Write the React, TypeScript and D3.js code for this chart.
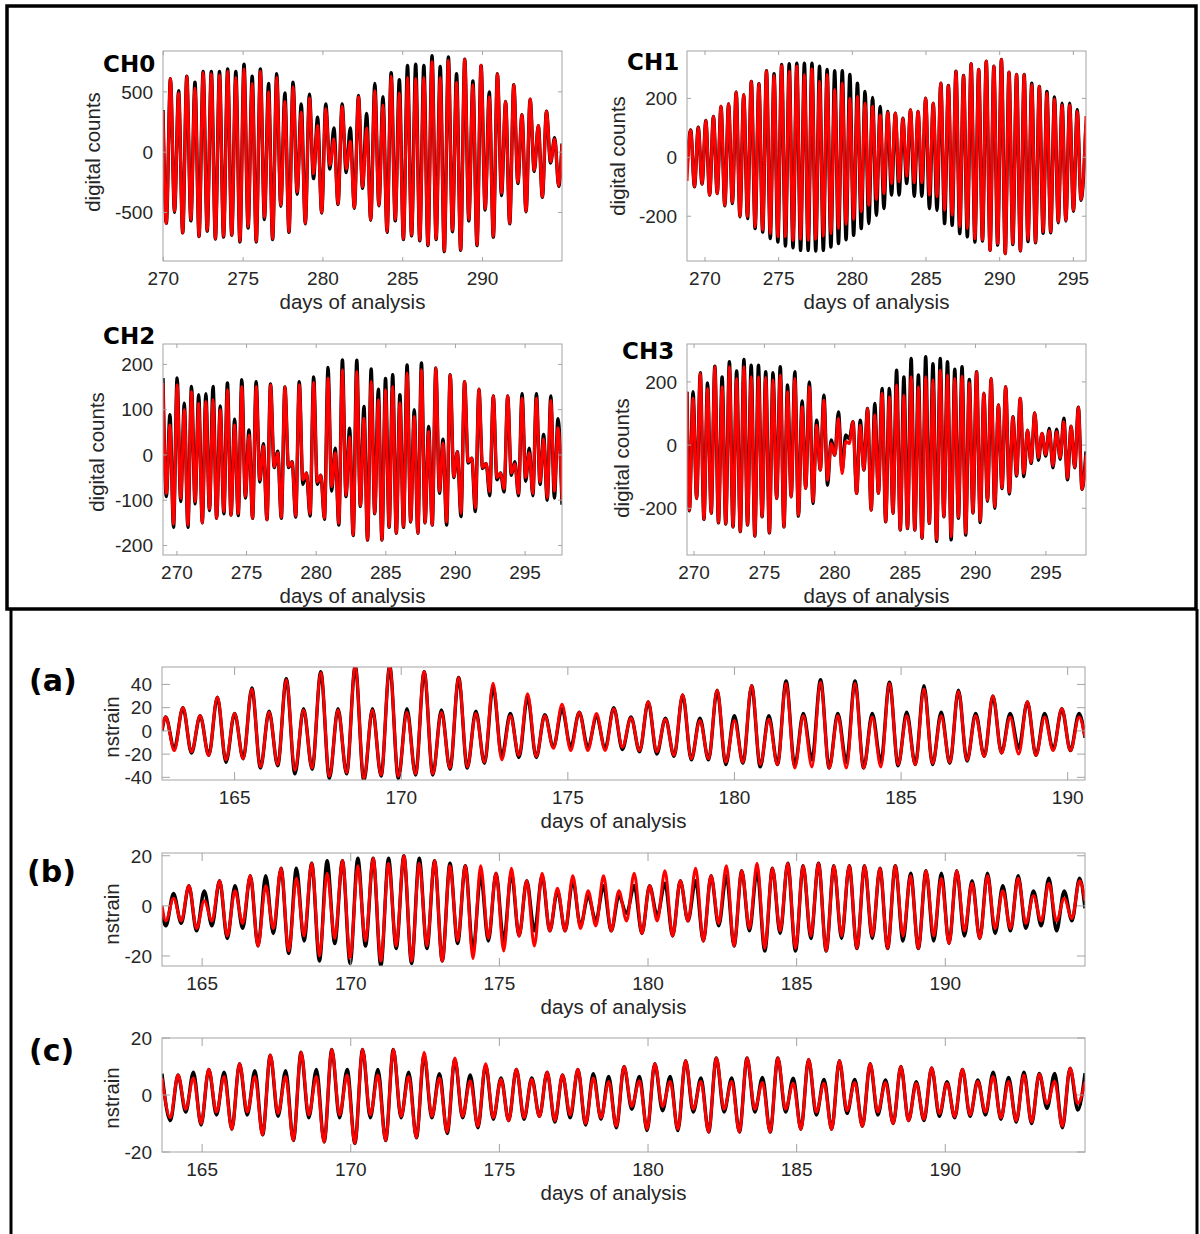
import React from 'react';
import * as d3 from 'd3';

const W = 1200;
const H = 1234;

// Every series is stored as its turning points (troughs and crests) read off the
// figure, plus the value where the trace enters and leaves the axes.
// The turning points sit on the semidiurnal half-period grid of each panel.

// CH0
const ch0RedLow = [-590, -490, -670, -560, -700, -650, -720, -700, -690, -740,
  -620, -740, -540, -720, -440, -660, -330, -590, -180, -500,
  -110, -430, -140, -460, -290, -560, -440, -660, -560, -720,
  -690, -730, -770, -720, -820, -650, -810, -560, -770, -470,
  -700, -340, -590, -250, -490, -150, -370, -80, -280];
const ch0RedHigh = [610, 490, 630, 530, 660, 650, 640, 670, 620, 690,
  570, 670, 500, 620, 420, 540, 330, 450, 220, 360,
  110, 380, 90, 460, 200, 510, 390, 630, 490, 620,
  610, 620, 750, 620, 760, 580, 770, 560, 720, 460,
  650, 420, 560, 310, 440, 220, 340, 110];
const ch0BlackLow = [-590, -500, -670, -570, -700, -655, -720, -705, -690, -745,
  -630, -745, -560, -725, -450, -665, -350, -595, -220, -505,
  -140, -435, -170, -465, -300, -565, -445, -665, -570, -725,
  -695, -735, -775, -725, -825, -660, -815, -570, -775, -480,
  -705, -360, -595, -260, -495, -160, -375, -90, -285];
const ch0BlackHigh = [610, 510, 630, 580, 670, 670, 670, 690, 670, 730,
  630, 690, 570, 650, 490, 580, 400, 480, 290, 400,
  200, 400, 200, 470, 320, 570, 460, 660, 600, 720,
  730, 720, 800, 710, 790, 650, 770, 590, 720, 500,
  650, 420, 560, 310, 440, 220, 340, 120];
const ch0RedEnds = [340, 70];
const ch0BlackEnds = [350, 70];

// CH1
const ch1RedHigh = [93, 102, 125, 139, 173, 181, 222, 213, 258, 250,
  294, 278, 311, 292, 309, 281, 300, 258, 281, 230,
  252, 201, 207, 184, 173, 144, 152, 150, 133, 161,
  156, 201, 184, 252, 244, 292, 278, 318, 298, 326,
  309, 332, 289, 281, 281, 247, 241, 218, 198, 178,
  178, 156];
const ch1RedLow = [-100, -91, -128, -123, -163, -153, -200, -202, -236, -248,
  -259, -270, -270, -282, -278, -282, -278, -268, -259, -242,
  -227, -211, -185, -163, -143, -123, -89, -83, -64, -86,
  -86, -128, -134, -180, -197, -236, -242, -276, -280, -316,
  -293, -327, -293, -316, -280, -288, -253, -253, -219, -214,
  -180, -143];
const ch1BlackHigh = [93, 102, 125, 139, 173, 181, 222, 213, 258, 250,
  294, 284, 315, 318, 320, 320, 320, 309, 298, 294,
  294, 281, 252, 224, 203, 173, 156, 150, 133, 161,
  156, 201, 184, 252, 244, 292, 278, 318, 298, 326,
  309, 332, 289, 281, 281, 252, 241, 224, 205, 184,
  184, 162];
const ch1BlackLow = [-100, -91, -128, -123, -165, -157, -202, -208, -242, -254,
  -276, -288, -301, -307, -316, -316, -318, -316, -305, -293,
  -280, -265, -242, -225, -197, -174, -128, -128, -89, -132,
  -132, -174, -180, -225, -231, -259, -270, -288, -284, -316,
  -298, -327, -296, -318, -286, -290, -258, -256, -222, -216,
  -183, -146];
const ch1RedEnds = [-80, 140];
const ch1BlackEnds = [-35, 110];

// CH2
const ch2RedLow = [-85, -153, -96, -155, -103, -150, -120, -140, -125, -133,
  -130, -92, -140, -55, -143, -26, -138, -25, -135, -55,
  -130, -60, -140, -70, -151, -89, -177, -112, -188, -129,
  -188, -159, -173, -159, -147, -173, -150, -155, -81, -148,
  -48, -129, -15, -117, -28, -81, -50, -75, -40, -85,
  -50, -85, -60, -95, -80];
const ch2RedHigh = [66, 155, 100, 140, 114, 118, 122, 100, 144, 66,
  151, 44, 151, 20, 155, 5, 150, -15, 155, -40,
  160, -45, 170, 5, 188, 40, 184, 81, 162, 122,
  144, 151, 115, 181, 85, 188, 52, 192, 26, 177,
  7, 162, -7, 145, -19, 130, -40, 130, -20, 125,
  5, 125, 35, 120, 60];
const ch2BlackLow = [-92, -160, -103, -160, -108, -150, -123, -140, -130, -133,
  -134, -95, -140, -60, -143, -28, -140, -28, -137, -65,
  -135, -65, -142, -80, -155, -92, -178, -114, -188, -130,
  -188, -160, -173, -160, -148, -173, -150, -155, -85, -155,
  -50, -136, -18, -125, -30, -90, -55, -82, -45, -90,
  -58, -90, -65, -100, -95];
const ch2BlackHigh = [89, 170, 114, 151, 133, 135, 151, 108, 159, 79,
  166, 55, 162, 25, 157, 8, 150, -15, 162, -40,
  172, -45, 193, 15, 210, 59, 209, 107, 190, 145,
  169, 177, 133, 199, 100, 203, 63, 192, 35, 177,
  7, 162, -7, 145, -19, 130, -40, 130, -15, 135,
  15, 135, 45, 130, 80];
const ch2RedEnds = [159, -100];
const ch2BlackEnds = [170, -110];

// CH3
const ch3RedLow = [-206, -169, -235, -216, -246, -250, -259, -274, -253, -288,
  -227, -278, -169, -259, -164, -222, -137, -179, -79, -111,
  -32, -90, 5, -153, -79, -206, -153, -243, -216, -269,
  -264, -269, -295, -248, -300, -227, -290, -230, -280, -215,
  -240, -175, -195, -135, -150, -95, -90, -55, -40, -30,
  -65, -40, -105, -70, -140];
const ch3RedHigh = [148, 227, 179, 248, 185, 248, 211, 248, 216, 216,
  214, 206, 222, 169, 211, 121, 185, 63, 142, 5,
  85, 11, 74, 63, 116, 95, 164, 153, 190, 158,
  216, 185, 216, 206, 237, 222, 211, 218, 197, 232,
  164, 211, 127, 185, 90, 148, 47, 102, 37, 45,
  42, 75, 60, 120];
const ch3BlackLow = [-208, -169, -235, -216, -246, -250, -259, -274, -253, -288,
  -227, -278, -169, -259, -164, -225, -137, -185, -79, -127,
  -32, -79, 20, -153, -79, -206, -153, -243, -216, -269,
  -264, -269, -295, -248, -305, -227, -300, -232, -285, -215,
  -245, -178, -200, -138, -155, -98, -100, -58, -48, -35,
  -72, -45, -110, -72, -140];
const ch3BlackHigh = [169, 229, 197, 250, 216, 264, 235, 271, 253, 253,
  232, 229, 248, 190, 232, 140, 200, 79, 158, 16,
  105, 32, 74, 79, 116, 132, 179, 179, 237, 216,
  274, 222, 280, 258, 274, 264, 240, 248, 208, 232,
  164, 211, 127, 185, 90, 148, 47, 102, 37, 53,
  50, 85, 60, 120];
const ch3RedEnds = [169, -30];
const ch3BlackEnds = [169, -20];

// (a)
const aRedHigh = [12, 20, 13, 29, 15, 36, 16, 44, 18, 50,
  18, 55, 18, 55, 16, 51, 16, 46, 15, 41,
  13, 32, 13, 23, 16, 15, 19, 11, 25, 10,
  31, 9, 35, 9, 39, 10, 41, 13, 42, 13,
  41, 12, 41, 13, 36, 13, 34, 13, 30, 12,
  25, 12, 19, 12];
const aRedLow = [-17, -18, -21, -25, -24, -31, -29, -34, -32, -39,
  -36, -41, -38, -39, -37, -37, -32, -31, -27, -25,
  -21, -22, -15, -17, -17, -17, -14, -17, -18, -21,
  -24, -24, -27, -27, -29, -29, -32, -31, -32, -32,
  -32, -31, -29, -29, -28, -27, -25, -22, -19, -20,
  -21, -17, -17];
const aBlackHigh = [12, 20, 13, 29, 15, 37, 17, 45, 19, 51,
  19, 56, 19, 56, 19, 51, 18, 46, 17, 38,
  15, 29, 14, 19, 16, 12, 20, 12, 25, 11,
  31, 11, 35, 13, 39, 13, 43, 15, 44, 15,
  43, 15, 42, 16, 39, 16, 35, 15, 30, 15,
  25, 15, 19, 15];
const aBlackLow = [-15, -19, -21, -27, -24, -32, -30, -37, -33, -41,
  -37, -43, -39, -41, -38, -38, -33, -32, -28, -22,
  -23, -23, -14, -14, -14, -15, -16, -18, -20, -22,
  -25, -25, -29, -28, -31, -29, -30, -25, -32, -27,
  -32, -27, -30, -29, -29, -28, -26, -22, -19, -15,
  -21, -16, -17];
const aRedEnds = [1, -5];
const aBlackEnds = [0, -6];

// (b)
const bRedLow = [-6, -6, -9, -6, -12, -7, -16, -9, -18, -12,
  -20, -13, -21, -14, -22, -16, -22, -16, -22, -14,
  -21, -13, -18, -12, -16, -10, -10, -9, -8, -10,
  -6, -11, -6, -12, -6, -14, -7, -16, -9, -17,
  -10, -17, -12, -18, -12, -17, -12, -17, -12, -17,
  -12, -15, -10, -13, -9, -9, -7, -6, -6, -5];
const bRedHigh = [3, 8, 2, 10, 6, 12, 8, 15, 11, 17,
  13, 18, 16, 19, 17, 20, 17, 18, 16, 16,
  16, 13, 15, 10, 13, 7, 12, 6, 12, 6,
  13, 8, 14, 10, 15, 12, 16, 14, 17, 15,
  17, 16, 17, 16, 16, 16, 15, 16, 12, 14,
  11, 14, 9, 12, 6, 11, 4, 9, 3, 10];
const bBlackLow = [-8, -7, -10, -8, -13, -9, -16, -11, -19, -14,
  -22, -15, -23, -16, -24, -17, -23, -17, -22, -15,
  -18, -14, -14, -12, -10, -10, -10, -8, -6, -10,
  -3, -11, -4, -12, -6, -14, -8, -16, -10, -18,
  -11, -18, -13, -18, -13, -17, -13, -17, -14, -17,
  -14, -15, -12, -13, -11, -10, -9, -8, -10, -6];
const bBlackHigh = [5, 8, 6, 10, 8, 12, 12, 15, 15, 17,
  18, 18, 19, 19, 19, 20, 19, 18, 17, 16,
  12, 13, 13, 10, 12, 6, 10, 4, 8, 4,
  8, 8, 9, 10, 10, 12, 12, 14, 14, 15,
  17, 16, 17, 16, 16, 16, 15, 16, 13, 14,
  13, 14, 10, 13, 8, 12, 6, 11, 6, 11];
const bRedEnds = [0, 2];
const bBlackEnds = [-3, -1];

// (c)
const cRedLow = [-8, -5, -10, -6, -12, -6, -14, -6.5, -16, -7,
  -16.5, -7, -17, -7, -16, -7.5, -15, -7.5, -13, -7.5,
  -11, -8, -9, -8, -7.5, -9, -7, -10, -8, -11,
  -4, -12, -4, -12, -5, -13, -5, -13, -5, -13,
  -5, -12, -6, -12, -5.5, -11, -6, -10, -9, -8.5,
  -6.5, -7.6, -7, -6, -8, -9, -9.5, -3, -11, -3];
const cRedHigh = [7, 6, 9, 6.5, 11, 6.5, 14, 6.5, 15, 6.5,
  16, 7, 16, 7, 16, 6.5, 15, 6, 13, 5,
  11, 5.5, 9, 5.5, 8, 7, 9, 6, 4.7, 10,
  5, 11, 4.7, 12, 4.7, 13, 4.7, 13, 4.4, 13,
  4.1, 12.5, 4.1, 12, 4.4, 11, 4.4, 10, 4.1, 9.5,
  4.1, 9, 4.7, 6.5, 4.7, 7, 7.3, 4.7, 9.4];
const cBlackLow = [-9, -6, -10.5, -7, -12, -7, -14, -7.5, -16, -8,
  -16.5, -8, -17, -8, -16, -8, -15, -8, -13.5, -8,
  -11.5, -8.5, -9, -8.5, -7.5, -9.5, -8, -10.5, -8.5, -11.5,
  -5, -12.5, -5.5, -12.5, -6, -13, -6, -13, -6, -13,
  -6, -12, -7, -12, -6.5, -11, -7, -10, -9, -9,
  -7.5, -8, -7.5, -7, -8.5, -9.5, -10, -4.7, -11.5, -5.3];
const cBlackHigh = [7, 8, 9, 8, 11, 8.5, 14, 8.5, 15, 9,
  16, 9, 16, 9, 16, 8, 14, 7.5, 12.5, 7,
  10.5, 6, 9, 6, 8, 7, 9, 7.5, 6.5, 10,
  6.5, 11, 6.5, 12, 6, 13, 6, 13, 6.2, 13,
  5.9, 12.5, 5.5, 12, 5.5, 11, 5.3, 10, 4.7, 9.5,
  4.7, 9, 5.3, 8, 6.2, 8, 7.6, 7.6, 9.4];
const cRedEnds = [6, 4.7];
const cBlackEnds = [7.5, 7.6];

// tick labels
const dayTicksCH0 = [270, 275, 280, 285, 290];
const dayTicksCH = [270, 275, 280, 285, 290, 295];
const dayTicksStrain = [165, 170, 175, 180, 185, 190];
const countTicksCH0 = [-500, 0, 500];
const countTicksCH1 = [-200, 0, 200];
const countTicksCH2 = [-200, -100, 0, 100, 200];
const countTicksCH3 = [-200, 0, 200];
const strainTicksA = [-40, -20, 0, 20, 40];
const strainTicksBC = [-20, 0, 20];

type PanelSpec = {
  id: string;
  title: string;
  titleX: number;
  titleY: number;
  titleSize: number;
  left: number;
  right: number;
  top: number;
  bottom: number;
  xDomain: [number, number];
  yDomain: [number, number];
  xTicks: number[];
  yTicks: number[];
  tickLen: number;
  yLabel: string;
  yLabelX: number;
  yLabelY: number;
  first: 'low' | 'high';
  tFirst: number;
  half: number;
  redLow: number[];
  redHigh: number[];
  blackLow: number[];
  blackHigh: number[];
  redEnds: number[];
  blackEnds: number[];
};

const panels: PanelSpec[] = [
  {
    id: 'ch0', title: 'CH0', titleX: 103, titleY: 72, titleSize: 23,
    left: 163, right: 562, top: 51, bottom: 261,
    xDomain: [269.98, 294.98], yDomain: [-903, 839],
    xTicks: dayTicksCH0, yTicks: countTicksCH0, tickLen: 4,
    yLabel: 'digital counts', yLabelX: 93, yLabelY: 152,
    first: 'low', tFirst: 270.19, half: 0.2561,
    redLow: ch0RedLow, redHigh: ch0RedHigh, blackLow: ch0BlackLow, blackHigh: ch0BlackHigh,
    redEnds: ch0RedEnds, blackEnds: ch0BlackEnds,
  },
  {
    id: 'ch1', title: 'CH1', titleX: 627, titleY: 70, titleSize: 23,
    left: 687, right: 1086, top: 51, bottom: 261,
    xDomain: [268.78, 295.86], yDomain: [-352, 361],
    xTicks: dayTicksCH, yTicks: countTicksCH1, tickLen: 4,
    yLabel: 'digital counts', yLabelX: 618, yLabelY: 156,
    first: 'high', tFirst: 269.03, half: 0.2572,
    redLow: ch1RedLow, redHigh: ch1RedHigh, blackLow: ch1BlackLow, blackHigh: ch1BlackHigh,
    redEnds: ch1RedEnds, blackEnds: ch1BlackEnds,
  },
  {
    id: 'ch2', title: 'CH2', titleX: 103, titleY: 344, titleSize: 23,
    left: 163, right: 562, top: 344, bottom: 555,
    xDomain: [269.0, 297.65], yDomain: [-221, 245],
    xTicks: dayTicksCH, yTicks: countTicksCH2, tickLen: 4,
    yLabel: 'digital counts', yLabelX: 97, yLabelY: 452,
    first: 'low', tFirst: 269.24, half: 0.258,
    redLow: ch2RedLow, redHigh: ch2RedHigh, blackLow: ch2BlackLow, blackHigh: ch2BlackHigh,
    redEnds: ch2RedEnds, blackEnds: ch2BlackEnds,
  },
  {
    id: 'ch3', title: 'CH3', titleX: 622, titleY: 359, titleSize: 23,
    left: 687, right: 1086, top: 344, bottom: 555,
    xDomain: [269.5, 297.85], yDomain: [-348, 320],
    xTicks: dayTicksCH, yTicks: countTicksCH3, tickLen: 4,
    yLabel: 'digital counts', yLabelX: 622, yLabelY: 458,
    first: 'low', tFirst: 269.67, half: 0.2583,
    redLow: ch3RedLow, redHigh: ch3RedHigh, blackLow: ch3BlackLow, blackHigh: ch3BlackHigh,
    redEnds: ch3RedEnds, blackEnds: ch3BlackEnds,
  },
  {
    id: 'a', title: '(a)', titleX: 29, titleY: 691, titleSize: 30,
    left: 162, right: 1085, top: 667, bottom: 780,
    xDomain: [162.82, 190.52], yDomain: [-42.3, 55],
    xTicks: dayTicksStrain, yTicks: strainTicksA, tickLen: 8,
    yLabel: 'nstrain', yLabelX: 112, yLabelY: 727,
    first: 'high', tFirst: 162.93, half: 0.2586,
    redLow: aRedLow, redHigh: aRedHigh, blackLow: aBlackLow, blackHigh: aBlackHigh,
    redEnds: aRedEnds, blackEnds: aBlackEnds,
  },
  {
    id: 'b', title: '(b)', titleX: 27, titleY: 882, titleSize: 30,
    left: 162, right: 1085, top: 853, bottom: 966,
    xDomain: [163.65, 194.7], yDomain: [-24, 21.1],
    xTicks: dayTicksStrain, yTicks: strainTicksBC, tickLen: 8,
    yLabel: 'nstrain', yLabelX: 112, yLabelY: 914,
    first: 'low', tFirst: 163.78, half: 0.2583,
    redLow: bRedLow, redHigh: bRedHigh, blackLow: bBlackLow, blackHigh: bBlackHigh,
    redEnds: bRedEnds, blackEnds: bBlackEnds,
  },
  {
    id: 'c', title: '(c)', titleX: 29, titleY: 1061, titleSize: 30,
    left: 162, right: 1085, top: 1038, bottom: 1152,
    xDomain: [163.65, 194.7], yDomain: [-20, 20],
    xTicks: dayTicksStrain, yTicks: strainTicksBC, tickLen: 8,
    yLabel: 'nstrain', yLabelX: 112, yLabelY: 1098,
    first: 'low', tFirst: 163.93, half: 0.2587,
    redLow: cRedLow, redHigh: cRedHigh, blackLow: cBlackLow, blackHigh: cBlackHigh,
    redEnds: cRedEnds, blackEnds: cBlackEnds,
  },
];

// alternate troughs and crests in the order they occur
function interleave(first: 'low' | 'high', lows: number[], highs: number[]) {
  const out: number[] = [];
  const n = Math.max(lows.length, highs.length);
  for (let i = 0; i < n; i++) {
    const a = first === 'low' ? lows[i] : highs[i];
    const b = first === 'low' ? highs[i] : lows[i];
    if (a !== undefined) out.push(a);
    if (b !== undefined) out.push(b);
  }
  return out;
}

function toPoints(p: PanelSpec, lows: number[], highs: number[], ends: number[]) {
  const turns = interleave(p.first, lows, highs);
  const pts: [number, number][] = [[p.xDomain[0], ends[0]]];
  turns.forEach((v, i) => pts.push([p.tFirst + i * p.half, v]));
  pts.push([p.xDomain[1], ends[1]]);
  return pts;
}

const FONT = "'Liberation Sans', Arial, Helvetica, sans-serif";
const AXIS_COLOR = '#a3a3a3';
const TEXT_COLOR = '#262626';

function Panel({ p }: { p: PanelSpec }) {
  const x = d3.scaleLinear().domain(p.xDomain).range([p.left, p.right]);
  const y = d3.scaleLinear().domain(p.yDomain).range([p.bottom, p.top]);
  const line = d3
    .line<[number, number]>()
    .x((d) => x(d[0]))
    .y((d) => y(d[1]))
    .curve(d3.curveMonotoneX);

  const black = toPoints(p, p.blackLow, p.blackHigh, p.blackEnds);
  const red = toPoints(p, p.redLow, p.redHigh, p.redEnds);
  const clipId = 'clip-' + p.id;
  // MATLAB puts the xlabel a little left of the axes centre here
  const labelX = (p.left + p.right) / 2 - 10;

  return (
    <g>
      <defs>
        <clipPath id={clipId}>
          <rect x={p.left} y={p.top} width={p.right - p.left} height={p.bottom - p.top} />
        </clipPath>
      </defs>
      <g clipPath={'url(#' + clipId + ')'}>
        <path d={line(black) || ''} fill="none" stroke="#000" strokeWidth={3.4} strokeLinejoin="round" />
        <path d={line(red) || ''} fill="none" stroke="#ff0000" strokeWidth={3} strokeLinejoin="round" />
      </g>

      <rect
        x={p.left}
        y={p.top}
        width={p.right - p.left}
        height={p.bottom - p.top}
        fill="none"
        stroke={AXIS_COLOR}
        strokeWidth={1}
      />

      {p.xTicks.map((t) => (
        <g key={'x' + t}>
          <line x1={x(t)} x2={x(t)} y1={p.bottom} y2={p.bottom - p.tickLen} stroke={AXIS_COLOR} />
          <line x1={x(t)} x2={x(t)} y1={p.top} y2={p.top + p.tickLen} stroke={AXIS_COLOR} />
          <text x={x(t)} y={p.bottom + 24} textAnchor="middle" fontSize={19} fill={TEXT_COLOR} fontFamily={FONT}>
            {t}
          </text>
        </g>
      ))}

      {p.yTicks.map((v) => (
        <g key={'y' + v}>
          <line x1={p.left} x2={p.left + p.tickLen} y1={y(v)} y2={y(v)} stroke={AXIS_COLOR} />
          <line x1={p.right} x2={p.right - p.tickLen} y1={y(v)} y2={y(v)} stroke={AXIS_COLOR} />
          <text x={p.left - 10} y={y(v) + 6.8} textAnchor="end" fontSize={19} fill={TEXT_COLOR} fontFamily={FONT}>
            {v}
          </text>
        </g>
      ))}

      <text x={labelX} y={p.bottom + 48} textAnchor="middle" fontSize={20.5} fill={TEXT_COLOR} fontFamily={FONT}>
        days of analysis
      </text>
      <text
        transform={'translate(' + p.yLabelX + ',' + p.yLabelY + ') rotate(-90)'}
        textAnchor="middle"
        dy="0.35em"
        fontSize={20.5}
        fill={TEXT_COLOR}
        fontFamily={FONT}
      >
        {p.yLabel}
      </text>

      <text
        x={p.titleX}
        y={p.titleY}
        fontSize={p.titleSize}
        fontWeight="bold"
        fontFamily="'DejaVu Sans', 'Open Sans', sans-serif"
        fill="#000"
      >
        {p.title}
      </text>
    </g>
  );
}

export default function App() {
  return (
    <svg
      width={W}
      height={H}
      viewBox={'0 0 ' + W + ' ' + H}
      style={{ position: 'absolute', left: 0, top: 0, background: '#fff' }}
    >
      <rect width={W} height={H} fill="#fff" />
      {panels.map((p) => (
        <Panel key={p.id} p={p} />
      ))}
      {/* frames around the two halves of the figure */}
      <rect x={7} y={6} width={1189} height={603} fill="none" stroke="#000" strokeWidth={3.5} />
      <line x1={11} x2={11} y1={609} y2={H} stroke="#000" strokeWidth={3} />
      <line x1={1197} x2={1197} y1={609} y2={H} stroke="#000" strokeWidth={3} />
    </svg>
  );
}
